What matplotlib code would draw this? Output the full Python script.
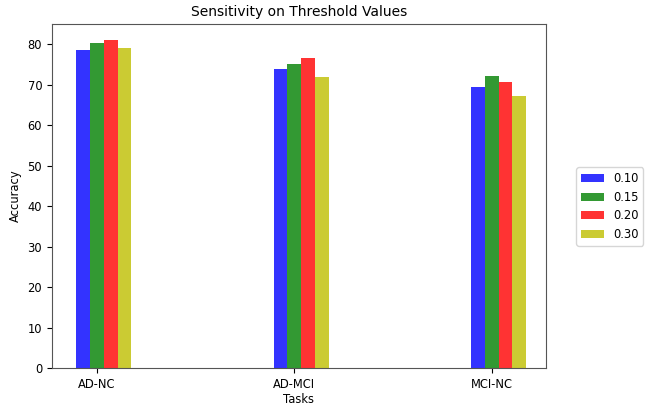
import matplotlib
matplotlib.use("Agg")
import matplotlib.pyplot as plt
import numpy as np

tasks = ["AD-NC", "AD-MCI", "MCI-NC"]
thresholds = ["0.10", "0.15", "0.20", "0.30"]
acc_010 = [78.6, 74.0, 69.6]
acc_015 = [80.3, 75.1, 72.2]
acc_020 = [81.0, 76.6, 70.8]
acc_030 = [79.2, 71.9, 67.2]
series = [acc_010, acc_015, acc_020, acc_030]
colors = ["b", "g", "r", "y"]

fig = plt.figure(figsize=(6.49, 4.07), dpi=100)
ax = fig.add_axes([0.080, 0.095, 0.761, 0.846])

ind = np.arange(len(tasks))
w = 0.07
for i, (vals, c, lab) in enumerate(zip(series, colors, thresholds)):
    ax.bar(ind + (i - 1) * w, vals, w, color=c, alpha=0.8, label=lab)

ax.set_xticks(ind)
ax.set_xticklabels(tasks)
ax.set_xlim(-0.228, 2.274)
ax.tick_params(labelsize=8.3)
for s in ax.spines.values():
    s.set_color("#555555")
ax.set_xlabel("Tasks", fontsize=8.3, labelpad=1.5)
ax.set_ylabel("Accuracy", fontsize=8.3)
ax.set_title("Sensitivity on Threshold Values", fontsize=10)
ax.legend(loc="center left", bbox_to_anchor=(1.05, 0.47), fontsize=8.3)

fig.savefig("out.png", dpi=100)
